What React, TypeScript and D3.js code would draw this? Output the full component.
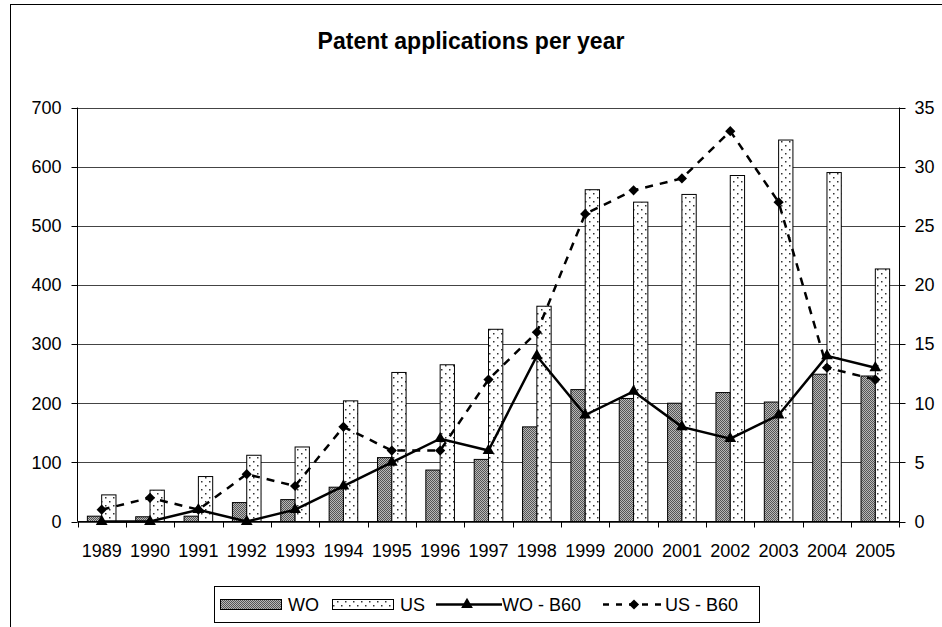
import { useEffect } from 'react'
import * as d3 from 'd3'

const years = ['1989', '1990', '1991', '1992', '1993', '1994', '1995', '1996', '1997', '1998', '1999', '2000', '2001', '2002', '2003', '2004', '2005']
const woApps = [9, 8, 9, 32, 37, 58, 108, 87, 105, 160, 223, 208, 200, 218, 202, 249, 246]
const usApps = [45, 53, 76, 112, 126, 204, 252, 265, 325, 364, 561, 540, 553, 585, 645, 590, 427]
const woB60 = [0, 0, 1, 0, 1, 3, 5, 7, 6, 14, 9, 11, 8, 7, 9, 14, 13]
const usB60 = [1, 2, 1, 4, 3, 8, 6, 6, 12, 16, 26, 28, 29, 33, 27, 13, 12]
const leftTicks = [0, 100, 200, 300, 400, 500, 600, 700]
const rightTicks = [0, 5, 10, 15, 20, 25, 30, 35]

const W = 942
const H = 627
const plot = { left: 77.5, right: 899.5, top: 107.5, bottom: 521.5 }
const font = '"Liberation Sans", Arial, sans-serif'

const App = () => {
    useEffect(() => {
        document.body.style.margin = '0'
    }, [])

    const x = d3.scaleBand().domain(years).range([plot.left, plot.right])
    const xSub = d3.scaleBand().domain(['WO', 'US']).range([0, x.bandwidth()]).paddingOuter(0.69)
    const yL = d3.scaleLinear().domain([0, 700]).range([plot.bottom, plot.top])
    const yR = d3.scaleLinear().domain([0, 35]).range([plot.bottom, plot.top])
    const cx = (i: number) => (x(years[i]) as number) + x.bandwidth() / 2

    const line = d3
        .line<number>()
        .x((_, i) => cx(i))
        .y((d) => yR(d))

    const tri = d3.symbol().type(d3.symbolTriangle).size(60)()
    const dia = d3.symbol().type(d3.symbolSquare).size(52)()

    return (
        <svg width={W} height={H} style={{ display: 'block', fontFamily: font }}>
            <defs>
                <pattern id='woFill' width='2' height='2' patternUnits='userSpaceOnUse'>
                    <rect width='2' height='2' fill='#b8b8b8' />
                    <rect width='1' height='1' fill='#555' />
                    <rect x='1' y='1' width='1' height='1' fill='#555' />
                </pattern>
                <pattern id='usFill' width='8' height='8' patternUnits='userSpaceOnUse'>
                    <rect width='8' height='8' fill='#fff' />
                    <rect x='1' y='1' width='1.5' height='1.5' fill='#333' />
                    <rect x='5' y='5' width='1.5' height='1.5' fill='#333' />
                </pattern>
            </defs>

            {/* chart frame */}
            <rect x={10.5} y={4.5} width={W + 20} height={H + 20} fill='#fff' stroke='#000' />

            <text x={471} y={49} textAnchor='middle' fontSize={23} fontWeight='bold'>
                Patent applications per year
            </text>

            {/* gridlines */}
            {leftTicks.map((t) => (
                <line key={t} x1={plot.left} x2={plot.right} y1={Math.round(yL(t)) + 0.5} y2={Math.round(yL(t)) + 0.5} stroke='#444' />
            ))}

            {/* bars */}
            {years.map((yr, i) => {
                const x0 = x(yr) as number
                return (
                    <g key={yr} stroke='#000' strokeWidth={1}>
                        <rect x={x0 + (xSub('WO') as number)} y={yL(woApps[i])} width={xSub.bandwidth()} height={plot.bottom - yL(woApps[i])} fill='url(#woFill)' />
                        <rect x={x0 + (xSub('US') as number)} y={yL(usApps[i])} width={xSub.bandwidth()} height={plot.bottom - yL(usApps[i])} fill='url(#usFill)' />
                    </g>
                )
            })}

            {/* axes */}
            <g stroke='#000' strokeWidth={1}>
                <line x1={plot.left} x2={plot.left} y1={plot.top} y2={plot.bottom} />
                <line x1={plot.right} x2={plot.right} y1={plot.top} y2={plot.bottom} />
                <line x1={plot.left} x2={plot.right} y1={plot.bottom} y2={plot.bottom} />
                {leftTicks.map((t) => (
                    <line key={t} x1={plot.left - 6} x2={plot.left} y1={Math.round(yL(t)) + 0.5} y2={Math.round(yL(t)) + 0.5} />
                ))}
                {rightTicks.map((t) => (
                    <line key={t} x1={plot.right} x2={plot.right + 6} y1={Math.round(yR(t)) + 0.5} y2={Math.round(yR(t)) + 0.5} />
                ))}
                {years.map((yr) => (
                    <line key={yr} x1={Math.round(x(yr) as number) + 0.5} x2={Math.round(x(yr) as number) + 0.5} y1={plot.bottom} y2={plot.bottom + 6} />
                ))}
                <line x1={plot.right} x2={plot.right} y1={plot.bottom} y2={plot.bottom + 6} />
            </g>

            <g fontSize={18} fill='#000'>
                {leftTicks.map((t) => (
                    <text key={t} x={plot.left - 16} y={yL(t)} dy='0.35em' textAnchor='end'>
                        {t}
                    </text>
                ))}
                {rightTicks.map((t) => (
                    <text key={t} x={plot.right + 15} y={yR(t)} dy='0.35em'>
                        {t}
                    </text>
                ))}
                {years.map((yr, i) => (
                    <text key={yr} x={cx(i)} y={557} textAnchor='middle'>
                        {yr}
                    </text>
                ))}
            </g>

            {/* lines */}
            <path d={line(usB60) as string} fill='none' stroke='#000' strokeWidth={2.5} strokeDasharray='8,7' />
            <path d={line(woB60) as string} fill='none' stroke='#000' strokeWidth={2.5} />
            {usB60.map((d, i) => (
                <path key={'u' + i} d={dia as string} transform={`translate(${cx(i)},${yR(d)}) rotate(45)`} fill='#000' />
            ))}
            {woB60.map((d, i) => (
                <path key={'w' + i} d={tri as string} transform={`translate(${cx(i)},${yR(d)})`} fill='#000' />
            ))}

            {/* legend */}
            <g fontSize={18}>
                <rect x={214.5} y={586.5} width={545} height={36} fill='#fff' stroke='#000' />
                <rect x={220.5} y={599.5} width={61} height={10} fill='url(#woFill)' stroke='#000' />
                <text x={288} y={611}>WO</text>
                <rect x={332.5} y={599.5} width={61} height={10} fill='url(#usFill)' stroke='#000' />
                <text x={400} y={611}>US</text>
                <line x1={436} x2={502} y1={604.5} y2={604.5} stroke='#000' strokeWidth={2.5} />
                <path d={tri as string} transform='translate(467,604.5)' fill='#000' />
                <text x={502} y={611}>WO - B60</text>
                <line x1={603} x2={665} y1={604.5} y2={604.5} stroke='#000' strokeWidth={2.5} strokeDasharray='6,7' />
                <path d={dia as string} transform='translate(634,604.5) rotate(45)' fill='#000' />
                <text x={665} y={611}>US - B60</text>
            </g>
        </svg>
    )
}

export default App
